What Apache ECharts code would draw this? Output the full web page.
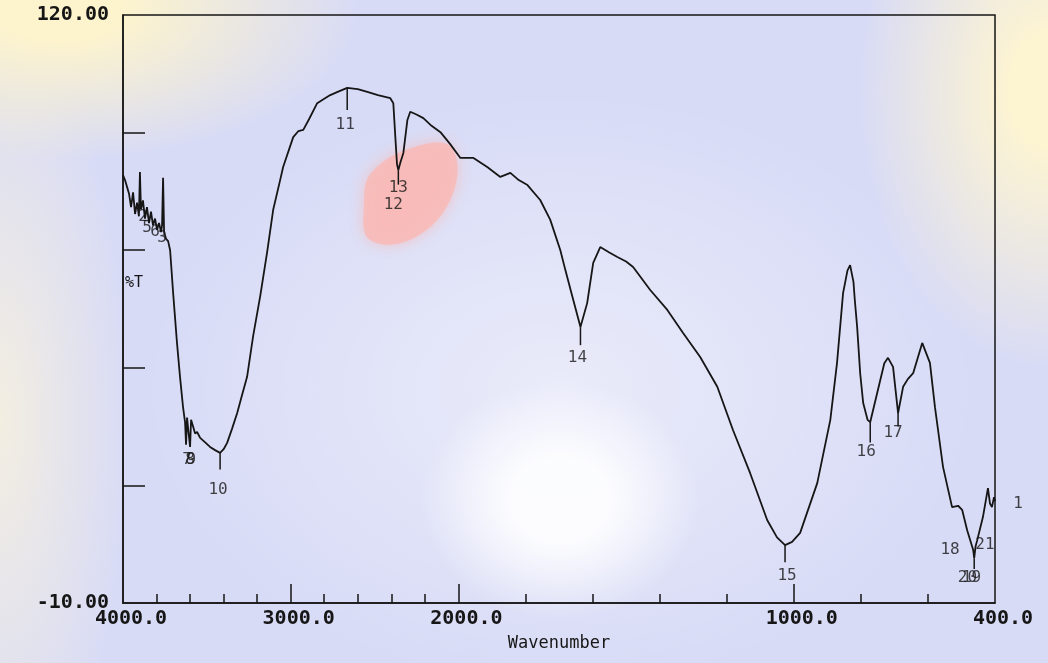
<!DOCTYPE html>
<html>
<head>
<meta charset="utf-8">
<script src="https://cdn.jsdelivr.net/npm/echarts@6/dist/echarts.min.js"></script>
<style>
  body { margin: 0; }
  #chart {
    width: 1048px;
    height: 663px;
    background:
      radial-gradient(ellipse 140px 120px at 560px 500px, rgba(255,255,255,0.9) 35%, rgba(255,255,255,0) 100%),
      radial-gradient(ellipse 420px 300px at 560px 390px, rgba(255,255,255,0.45), rgba(255,255,255,0) 100%),
      radial-gradient(ellipse 300px 150px at 60px 10px, rgba(253,244,205,1) 20%, rgba(253,244,205,0) 100%),
      radial-gradient(ellipse 190px 280px at 1048px 90px, rgba(253,244,210,1) 20%, rgba(253,244,210,0) 100%),
      radial-gradient(ellipse 130px 400px at 0px 420px, rgba(250,243,220,0.8), rgba(250,243,220,0) 100%),
      #d8dbf6;
  }
</style>
</head>
<body>
<div id="chart"></div>
<script>
// IR spectrum, wavenumber (cm-1) vs %T
const wavenumbers = [
  4000, 3988, 3976, 3964, 3952, 3940, 3928, 3916, 3905, 3899, 3893, 3881, 3869, 3857, 3845, 3833,
  3821, 3809, 3797, 3785, 3773, 3767, 3761, 3755, 3743, 3731, 3719, 3701, 3678, 3660, 3642, 3630,
  3624, 3618, 3610, 3600, 3594, 3582, 3570, 3558, 3540, 3510, 3481, 3451, 3421, 3400, 3379, 3350,
  3319, 3290, 3260, 3224, 3182, 3140, 3104, 3063, 3045, 2985, 2955, 2925, 2890, 2842, 2800, 2764,
  2720, 2663, 2600, 2543, 2480, 2406, 2388, 2376, 2366, 2358, 2345, 2328, 2304, 2287, 2250, 2209,
  2160, 2107, 2050, 2000, 1994, 1955, 1914, 1875, 1845, 1820, 1794, 1756, 1726, 1696, 1681, 1660,
  1636, 1616, 1598, 1577, 1550, 1526, 1500, 1479, 1428, 1377, 1330, 1279, 1228, 1181, 1130, 1079,
  1050, 1026, 1005, 981, 930, 891, 871, 853, 840, 832, 822, 818, 811, 802, 793, 780,
  772, 742, 730, 719, 704, 689, 674, 660, 644, 617, 594, 579, 555, 528, 510, 498,
  483, 465, 462, 458, 453, 436, 421, 415, 409, 403, 400
];
const transmittance = [
  84.6, 83.5, 82.0, 80.5, 77.5, 80.8, 76.0, 78.5, 75.5, 85.3, 77.0, 79.0, 75.0, 77.5, 74.0, 76.5,
  73.5, 75.0, 72.5, 74.0, 72.0, 73.5, 84.0, 72.0, 70.5, 70.0, 68.0, 58.5, 47.5, 40.0, 33.3, 30.0,
  25.0, 31.0, 28.0, 24.5, 30.5, 29.0, 27.5, 27.8, 26.5, 25.5, 24.5, 23.8, 23.2, 24.0, 25.4, 28.5,
  32.0, 36.0, 40.0, 49.0, 57.8, 67.7, 77.0, 83.5, 86.4, 93.0, 94.3, 94.6, 97.0, 100.5, 101.5, 102.3,
  103.0, 103.9, 103.6, 103.0, 102.3, 101.6, 100.5, 93.0, 87.0, 85.7, 87.5, 89.5, 96.8, 98.6, 98.0, 97.2,
  95.5, 94.1, 91.5, 89.0, 88.4, 88.4, 86.4, 84.2, 85.1, 83.5, 82.4, 79.1, 74.7, 68.0, 63.6, 57.7,
  51.0, 56.3, 65.2, 68.7, 67.5, 66.5, 65.5, 64.3, 59.2, 54.8, 49.7, 44.4, 37.8, 28.2, 18.7, 8.3,
  4.5, 2.8, 3.5, 5.5, 16.5, 30.5, 43.1, 58.5, 63.5, 64.7, 61.0, 57.0, 51.0, 40.8, 34.2, 30.5,
  30.0, 39.3, 43.0, 44.2, 42.2, 32.0, 37.8, 39.5, 40.8, 47.5, 43.1, 33.3, 20.1, 11.2, 11.5, 10.6,
  6.1, 1.7, -0.1, 2.5, 3.9, 9.0, 15.4, 12.0, 11.2, 13.4, 12.5
];

// peak numbers as printed by the instrument: text, wavenumber, %T
const peakText = ['1', '2', '5', '6', '3', '7', '8', '9', '10', '11', '13', '12', '14', '15', '16', '17', '18', '21', '20', '19'];
const peakWn   = [331, 3881, 3857, 3809, 3767, 3618, 3600, 3592, 3433, 2675, 2358, 2388, 1645, 1020, 784, 704, 534, 430, 482, 470];
const peakT    = [12.0, 75.3, 72.9, 72.0, 70.7, 21.6, 21.6, 21.6, 15.0, 95.7, 81.7, 78.0, 44.2, -4.0, 23.4, 27.6, 1.7, 2.8, -4.5, -4.5];

// small marker strokes below the minima: wavenumber, from %T, to %T
const markWn   = [2663, 2358, 1636, 1026, 772, 689, 3421, 462];
const markFrom = [103.9, 85.7, 51.0, 2.8, 30.0, 32.0, 23.2, -0.1];
const markTo   = [99.0, 82.5, 47.0, -1.0, 25.5, 29.0, 19.5, -2.5];

const majorTicks = [4000, 3000, 2000, 1000, 400];
const minorTicks = [3800, 3600, 3400, 3200, 2800, 2600, 2400, 2200, 1800, 1600, 1400, 1200, 800, 600];
const yTicks = [94, 68, 42, 16];
const yLabels = [120, -10];

// the instrument halves the scale above 2000 cm-1
function toAxis(wn) {
  return wn >= 2000 ? (4000 - wn) / 2 : 1000 + (2000 - wn);
}

const font = 'DejaVu Sans Mono';
const ink = '#161616';

const chart = echarts.init(document.getElementById('chart'));
chart.setOption({
  animation: false,
  grid: { left: 123, right: 53, top: 15, bottom: 60, show: true, borderColor: ink, borderWidth: 1.5 },
  xAxis: [
    {
      type: 'value', min: 0, max: 2600,
      name: 'Wavenumber', nameLocation: 'middle', nameGap: 32,
      nameTextStyle: { fontFamily: font, fontSize: 17, color: ink },
      axisLine: { onZero: false, lineStyle: { color: ink, width: 1.5 } },
      axisTick: { inside: true, length: 9, customValues: minorTicks.map(toAxis), lineStyle: { color: ink, width: 1.5 } },
      axisLabel: {
        customValues: majorTicks.map(toAxis),
        formatter: (v) => {
          const wn = majorTicks.find((m) => Math.abs(toAxis(m) - v) < 0.5);
          return wn.toFixed(1);
        },
        fontFamily: font, fontSize: 20, fontWeight: 'bold', color: ink, margin: 6, padding: [0, 0, 0, 16]
      },
      splitLine: { show: false }
    },
    {
      type: 'value', min: 0, max: 2600, position: 'bottom',
      axisLine: { show: false, onZero: false },
      axisTick: { inside: true, length: 19, customValues: [3000, 2000, 1000].map(toAxis), lineStyle: { color: ink, width: 1.5 } },
      axisLabel: { show: false },
      splitLine: { show: false }
    }
  ],
  yAxis: {
    type: 'value', min: -10, max: 120,
    axisLine: { show: true, onZero: false, lineStyle: { color: ink, width: 1.5 } },
    axisTick: { show: true, inside: true, length: 22, customValues: yTicks, lineStyle: { color: ink, width: 1.5 } },
    axisLabel: {
      customValues: yLabels,
      formatter: (v) => v.toFixed(2),
      fontFamily: font, fontSize: 20, fontWeight: 'bold', color: ink, margin: 14
    },
    splitLine: { show: false }
  },
  graphic: [
    {
      type: 'polygon', z: -1, silent: true,
      shape: { points: [[372, 172], [418, 146], [452, 148], [452, 196], [414, 238], [370, 240], [364, 205]], smooth: 0.4 },
      style: { fill: 'rgba(248,186,182,0.85)', shadowBlur: 14, shadowColor: 'rgba(248,186,182,0.9)' }
    },
    {
      type: 'text', left: 125, top: 276, silent: true,
      style: { text: '%T', font: '15px ' + font, fill: ink }
    }
  ],
  series: [
    {
      type: 'line',
      xAxisIndex: 0,
      data: wavenumbers.map((wn, i) => [toAxis(wn), transmittance[i]]),
      showSymbol: false,
      lineStyle: { color: ink, width: 1.8 },
      z: 3
    },
    {
      type: 'custom',
      data: markWn.map((wn, i) => [toAxis(wn), markFrom[i], markTo[i]]),
      renderItem: (params, api) => {
        const a = api.coord([api.value(0), api.value(1)]);
        const b = api.coord([api.value(0), api.value(2)]);
        return {
          type: 'line',
          shape: { x1: a[0], y1: a[1], x2: b[0], y2: b[1] },
          style: { stroke: ink, lineWidth: 1.5 }
        };
      },
      z: 3
    },
    {
      type: 'scatter',
      clip: false,
      symbolSize: 0,
      data: peakText.map((t, i) => ({ value: [toAxis(peakWn[i]), peakT[i]], name: t })),
      label: {
        show: true, position: 'inside',
        formatter: (p) => p.name,
        fontFamily: font, fontSize: 16, color: ink,
        textBorderWidth: 0
      },
      z: 4
    }
  ]
});
</script>
</body>
</html>
